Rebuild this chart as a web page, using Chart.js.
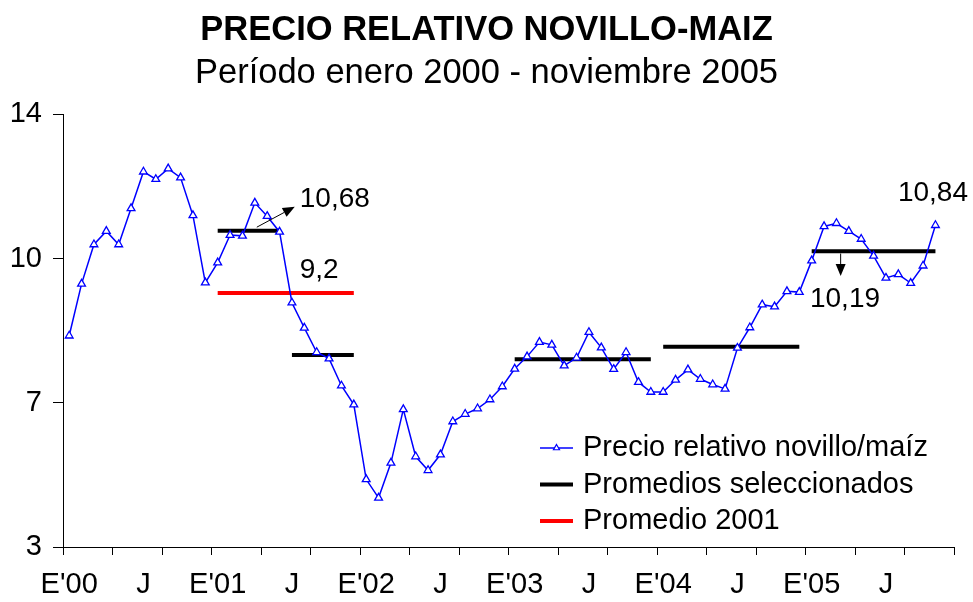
<!DOCTYPE html>
<html lang="es">
<head>
<meta charset="utf-8">
<title>Precio relativo novillo-maíz</title>
<script src="https://cdn.jsdelivr.net/npm/chart.js@4.4.1/dist/chart.umd.min.js"></script>
<style>
  html, body { margin: 0; padding: 0; background: #fff; }
  #wrap { width: 973px; height: 602px; position: relative; }
</style>
</head>
<body>
<div id="wrap"><canvas id="grafico"></canvas></div>
<script>
// Datos (enero 2000 - noviembre 2005)
const anios = ['00', '01', '02', '03', '04', '05'];
const meses = ['E', 'F', 'M', 'A', 'M', 'J', 'J', 'A', 'S', 'O', 'N', 'D'];
const etiquetasEje = ["E'00", 'J', "E'01", 'J', "E'02", 'J', "E'03", 'J', "E'04", 'J', "E'05", 'J'];

const precio = [
    8.37, 9.69, 10.69, 11.03, 10.69, 11.61, 12.54, 12.35, 12.62, 12.39, 11.43, 9.72,
    10.23, 10.93, 10.91, 11.75, 11.41, 11.01, 9.21, 8.57, 7.95, 7.79, 7.10, 6.62,
    4.72, 4.25, 5.14, 6.50, 5.30, 4.95, 5.35, 6.19, 6.38, 6.52, 6.75, 7.08,
    7.53, 7.84, 8.21, 8.14, 7.61, 7.81, 8.46, 8.07, 7.52, 7.95, 7.19, 6.94,
    6.94, 7.25, 7.51, 7.27, 7.13, 7.02, 8.06, 8.58, 9.16, 9.11, 9.50, 9.48,
    10.28, 11.15, 11.23, 11.03, 10.83, 10.40, 9.84, 9.93, 9.71, 10.15, 11.18
];

// Promedios seleccionados: mes inicial, mes final (indices) y valor
const promInicio = [12, 18, 36, 48, 60];
const promFin = [17, 23, 47, 59, 70];
const promValor = [11.04, 7.88, 7.77, 8.09, 10.52];

// Promedio 2001
const p2001Inicio = 12;
const p2001Fin = 23;
const p2001Valor = 9.46;

// Eje Y de 3 a 14 con tres divisiones iguales (rotuladas 3, 7, 10, 14)
const ejeMin = 3;
const ejeMax = 14;
const marcasY = [3, 3 + 11 / 3, 3 + 22 / 3, 14];

const categorias = [];
anios.forEach(a => meses.forEach(m => categorias.push(m + "'" + a)));

function tramo(inicio, fin, valor) {
    return categorias.map((c, i) => (i >= inicio && i <= fin) ? valor : null);
}

const FUENTE = 'Arial, "Liberation Sans", sans-serif';
Chart.defaults.font.family = FUENTE;
Chart.defaults.color = '#000';

const datasets = [{
    label: 'Precio relativo novillo/maíz',
    data: precio,
    borderColor: '#0000FF',
    borderWidth: 1.5,
    pointStyle: 'triangle',
    pointRadius: 4.5,
    pointBorderWidth: 1.3,
    pointBackgroundColor: '#FFFFFF',
    pointBorderColor: '#0000FF',
    tension: 0
}];
promValor.forEach((v, k) => {
    datasets.push({
        label: 'Promedios seleccionados',
        data: tramo(promInicio[k], promFin[k], v),
        borderColor: '#000000',
        borderWidth: 4,
        pointRadius: 0,
        spanGaps: false
    });
});
datasets.push({
    label: 'Promedio 2001',
    data: tramo(p2001Inicio, p2001Fin, p2001Valor),
    borderColor: '#FF0000',
    borderWidth: 4,
    pointRadius: 0,
    spanGaps: false
});

// Leyenda dentro del area del grafico, abajo a la derecha
const leyendaInterna = {
    id: 'leyendaInterna',
    afterDraw(chart, args, opts) {
        const { ctx, chartArea } = chart;
        const vistos = new Set();
        let fila = 0;
        ctx.save();
        ctx.font = opts.font;
        ctx.textBaseline = 'middle';
        ctx.textAlign = 'left';
        chart.data.datasets.forEach(ds => {
            if (vistos.has(ds.label)) return;
            vistos.add(ds.label);
            const x = chartArea.right - opts.derecha;
            const y = chartArea.bottom - opts.abajo + fila * opts.alto;
            ctx.strokeStyle = ds.borderColor;
            ctx.lineWidth = ds.borderWidth;
            ctx.beginPath();
            ctx.moveTo(x, y);
            ctx.lineTo(x + opts.largo, y);
            ctx.stroke();
            if (ds.pointRadius > 0) {
                const r = 3.5, cx = x + opts.largo / 2;
                ctx.beginPath();
                ctx.moveTo(cx, y - r);
                ctx.lineTo(cx + r * 0.866, y + r / 2);
                ctx.lineTo(cx - r * 0.866, y + r / 2);
                ctx.closePath();
                ctx.fillStyle = '#fff';
                ctx.fill();
                ctx.lineWidth = 1.2;
                ctx.stroke();
            }
            ctx.fillStyle = '#000';
            ctx.fillText(ds.label, x + opts.largo + opts.hueco, y);
            fila++;
        });
        ctx.restore();
    }
};

// Rotulos y flechas de los promedios
const notas = {
    id: 'notas',
    afterDatasetsDraw(chart, args, opts) {
        const { ctx } = chart;
        const sx = chart.scales.x, sy = chart.scales.y;
        ctx.save();
        ctx.fillStyle = '#000';
        ctx.strokeStyle = '#000';
        ctx.font = opts.font;
        ctx.textBaseline = 'middle';
        ctx.textAlign = 'left';
        opts.textos.forEach(t => ctx.fillText(t.texto, sx.getPixelForValue(t.x), sy.getPixelForValue(t.y)));
        opts.flechas.forEach(f => {
            const x1 = sx.getPixelForValue(f.x1), y1 = sy.getPixelForValue(f.y1);
            const x2 = sx.getPixelForValue(f.x2), y2 = sy.getPixelForValue(f.y2);
            const ang = Math.atan2(y2 - y1, x2 - x1);
            const L = 12, W = 5;
            ctx.lineWidth = 1;
            ctx.beginPath();
            ctx.moveTo(x1, y1);
            ctx.lineTo(x2 - L * Math.cos(ang), y2 - L * Math.sin(ang));
            ctx.stroke();
            ctx.beginPath();
            ctx.moveTo(x2, y2);
            ctx.lineTo(x2 - L * Math.cos(ang) - W * Math.sin(ang), y2 - L * Math.sin(ang) + W * Math.cos(ang));
            ctx.lineTo(x2 - L * Math.cos(ang) + W * Math.sin(ang), y2 - L * Math.sin(ang) - W * Math.cos(ang));
            ctx.closePath();
            ctx.fill();
        });
        ctx.restore();
    }
};

new Chart(document.getElementById('grafico'), {
    type: 'line',
    data: { labels: categorias, datasets: datasets },
    plugins: [leyendaInterna, notas],
    options: {
        responsive: true,
        maintainAspectRatio: false,
        animation: false,
        layout: { padding: 0 },
        plugins: {
            legend: { display: false },
            tooltip: { enabled: false },
            title: {
                display: true,
                text: 'PRECIO RELATIVO NOVILLO-MAIZ',
                font: { size: 34.5, weight: 'bold' },
                padding: { top: 10, bottom: 1 }
            },
            subtitle: {
                display: true,
                text: 'Período enero 2000 - noviembre 2005',
                color: '#000',
                font: { size: 34.5, weight: 'normal' },
                padding: { top: 0, bottom: 20.5 }
            },
            leyendaInterna: { font: '29px ' + FUENTE, derecha: 414, abajo: 99, alto: 36.5, largo: 33, hueco: 10 },
            notas: {
                font: '28px ' + FUENTE,
                textos: [
                    { texto: '10,68', x: 18.63, y: 11.85 },
                    { texto: '9,2', x: 18.63, y: 10.03 },
                    { texto: '10,19', x: 59.86, y: 9.31 },
                    { texto: '10,84', x: 66.97, y: 12.0 }
                ],
                flechas: [
                    { x1: 15.16, y1: 11.13, x2: 18.23, y2: 11.65 },
                    { x1: 62.34, y1: 10.46, x2: 62.34, y2: 9.89 }
                ]
            }
        },
        scales: {
            x: {
                type: 'category',
                offset: true,
                border: { display: true, color: '#000', width: 1 },
                grid: {
                    offset: true,
                    drawOnChartArea: false,
                    drawTicks: true,
                    tickLength: 8,
                    tickWidth: 1,
                    tickColor: c => (c.index === undefined || c.index % 4 === 0) ? '#000' : 'rgba(0,0,0,0)'
                },
                ticks: {
                    autoSkip: false,
                    maxRotation: 0,
                    minRotation: 0,
                    padding: 13,
                    font: { size: 29 },
                    callback: (v, i) => i % 6 === 0 ? etiquetasEje[i / 6] : ''
                },
                afterFit: s => { s.height = 55; }
            },
            y: {
                min: ejeMin,
                max: ejeMax,
                border: { display: true, color: '#000', width: 1 },
                grid: { drawOnChartArea: false, tickLength: 10, tickColor: '#000' },
                afterBuildTicks: s => { s.ticks = marcasY.map(v => ({ value: v })); },
                ticks: {
                    padding: 11,
                    font: { size: 29 },
                    callback: v => String(Math.round(v))
                },
                afterFit: s => { s.width = 63; }
            },
            // margen derecho vacio, para que el titulo quede centrado en el lienzo
            margen: {
                type: 'linear',
                position: 'right',
                display: true,
                border: { display: false },
                grid: { display: false, drawTicks: false },
                ticks: { display: false },
                afterFit: s => { s.width = 19; }
            }
        }
    }
});
</script>
</body>
</html>
